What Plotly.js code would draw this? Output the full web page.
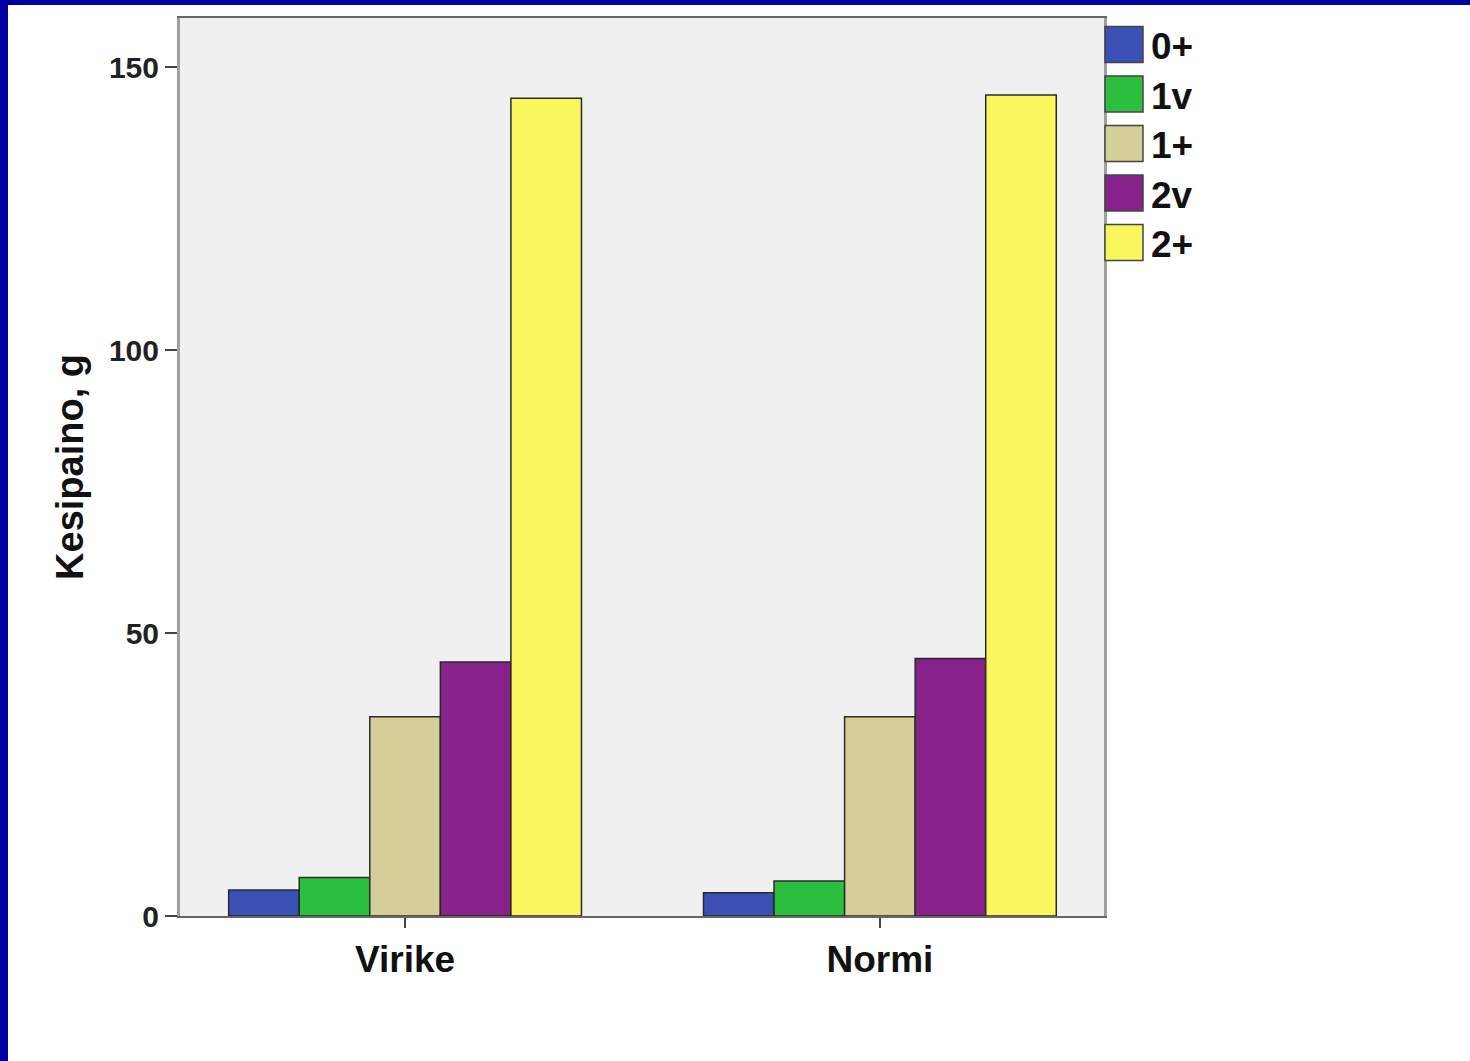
<!DOCTYPE html>
<html>
<head>
<meta charset="utf-8">
<script src="https://cdn.plot.ly/plotly-3.0.1.min.js"></script>
<style>
  html, body { margin: 0; padding: 0; background: #ffffff; }
  #frame { width: 1462px; height: 1056px; border-top: 5px solid #0000a0; border-left: 8px solid #0000a0; background: #ffffff; }
  #chart { width: 1462px; height: 1056px; }
</style>
</head>
<body>
<div id="frame"><div id="chart"></div></div>
<script>
// ---- data ----
const categories = ["Virike", "Normi"];
const seriesNames = ["0+", "1v", "1+", "2v", "2+"];
const series_0plus = [4.6, 4.1];
const series_1v = [6.8, 6.2];
const series_1plus = [35.2, 35.2];
const series_2v = [44.9, 45.5];
const series_2plus = [144.5, 145.1];
const seriesValues = [series_0plus, series_1v, series_1plus, series_2v, series_2plus];
const seriesColors = ["#3b50b4", "#2cbf3f", "#d4cf98", "#86228a", "#f9f65e"];
const yTickVals = [0, 50, 100, 150];
const yTitle = "Kesipaino, g";

// ---- traces ----
const traces = seriesNames.map((name, i) => ({
  type: "bar",
  name: name,
  x: categories,
  y: seriesValues[i],
  marker: { color: seriesColors[i], line: { color: "#2a2a2a", width: 1.5 } },
  showlegend: false,
  hoverinfo: "x+y+name"
}));

// ---- custom legend (large swatches like the original) ----
const plotTop = 18, plotBottom = 916, plotLeft = 180, plotRight = 1104; // image px
const plotH = plotBottom - plotTop, plotW = plotRight - plotLeft;
const px2x = px => (px - plotLeft) / plotW;
const px2y = py => (plotBottom - py) / plotH;
const shapes = [];
const annotations = [];
seriesNames.forEach((name, i) => {
  const yc = 44.5 + i * 49.5;
  shapes.push({
    type: "rect", xref: "paper", yref: "paper",
    x0: px2x(1105), x1: px2x(1143), y0: px2y(yc + 18), y1: px2y(yc - 18),
    fillcolor: seriesColors[i], line: { color: "#444444", width: 1.5 }
  });
  annotations.push({
    xref: "paper", yref: "paper", x: px2x(1149), y: px2y(yc + 2),
    xanchor: "left", yanchor: "middle", showarrow: false,
    text: "<b>" + name + "</b>",
    font: { family: "Liberation Sans, Arial, sans-serif", size: 37, color: "#111111" }
  });
});

const layout = {
  width: 1462, height: 1056,
  margin: { l: 172, r: 366, t: 13, b: 145, pad: 0 },
  paper_bgcolor: "#ffffff",
  plot_bgcolor: "#f0f0f0",
  barmode: "group",
  bargap: 0.257,
  bargroupgap: 0,
  showlegend: false,
  xaxis: {
    type: "category",
    range: [-0.474, 1.472],
    showgrid: false, zeroline: false,
    showline: true, linecolor: "#666666", linewidth: 2, mirror: true,
    ticks: "outside", ticklen: 10, tickwidth: 2, tickcolor: "#444444",
    tickfont: { family: "Liberation Sans, Arial, sans-serif", size: 37, color: "#111111", weight: "bold" },
    fixedrange: true
  },
  yaxis: {
    range: [0, 158.7],
    tickvals: yTickVals,
    ticktext: yTickVals.map(String),
    showgrid: false, zeroline: false,
    showline: true, linecolor: "#a0a0a0", linewidth: 3, mirror: true,
    ticks: "outside", ticklen: 12, tickwidth: 2, tickcolor: "#444444",
    tickfont: { family: "Liberation Sans, Arial, sans-serif", size: 30, color: "#222222", weight: "bold" },
    title: { text: "<b>" + yTitle + "</b>", standoff: 14,
      font: { family: "Liberation Sans, Arial, sans-serif", size: 38, color: "#111111" } },
    fixedrange: true
  },
  shapes: shapes,
  annotations: annotations
};

Plotly.newPlot("chart", traces, layout, { displayModeBar: false, staticPlot: true });
</script>
</body>
</html>
